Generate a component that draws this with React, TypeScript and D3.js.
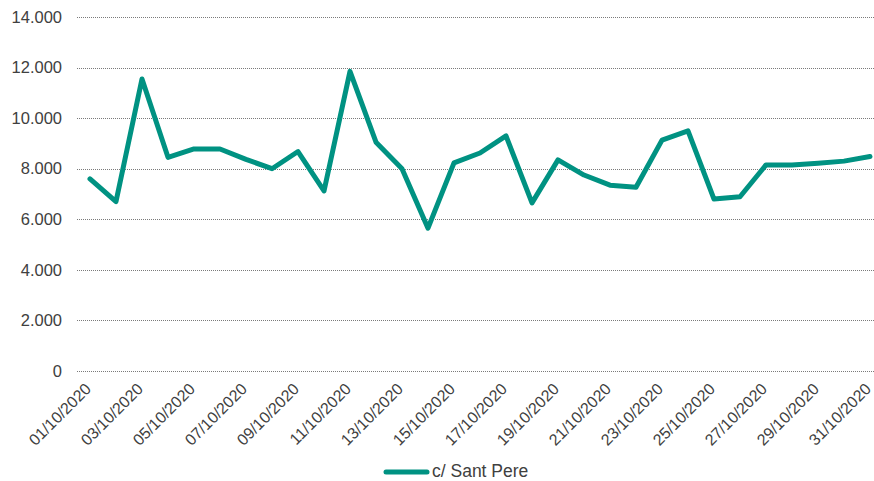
import React from "react";
import * as d3 from "d3";

const dates: string[] = Array.from({ length: 31 }, (_, i) =>
  `${String(i + 1).padStart(2, "0")}/10/2020`
);
const values: number[] = [
  7600, 6700, 11550, 8450, 8780, 8780, 8370, 8000, 8680, 7120,
  11850, 9050, 8000, 5650, 8230, 8620, 9300, 6650, 8350, 7750,
  7350, 7270, 9130, 9500, 6800, 6890, 8150, 8150, 8220, 8300, 8480,
];
const yTicks: number[] = [0, 2000, 4000, 6000, 8000, 10000, 12000, 14000];
const seriesName = "c/ Sant Pere";

const W = 874;
const H = 481;
const LINE_COLOR = "#009282";
const TEXT_COLOR = "#404040";

const locale = d3.formatLocale({
  decimal: ",",
  thousands: ".",
  grouping: [3],
  currency: ["", "€"],
});
const fmt = locale.format(",d");

export default function App() {
  const x = d3
    .scaleBand<string>()
    .domain(dates)
    .range([77, 77 + 26 * dates.length])
    .paddingInner(0)
    .paddingOuter(0);
  const y = d3.scaleLinear().domain([0, 14000]).range([371, 17]);
  const cx = (d: string) => (x(d) as number) + x.bandwidth() / 2;

  const line = d3
    .line<number>()
    .x((_, i) => cx(dates[i]))
    .y((v) => y(v));

  const labelDates = dates.filter((_, i) => i % 2 === 0);

  return (
    <svg
      width={W}
      height={H}
      style={{ position: "absolute", left: 0, top: 0, background: "#fff" }}
      fontFamily="'Liberation Sans', Arial, sans-serif"
    >
      {yTicks.map((t) => (
        <g key={t}>
          <line
            x1={77}
            x2={W}
            y1={Math.round(y(t)) + 0.5}
            y2={Math.round(y(t)) + 0.5}
            stroke="#7a7a7a"
            strokeWidth={1}
            strokeDasharray="1,1"
          />
          <text
            x={62}
            y={y(t)}
            dy="0.35em"
            textAnchor="end"
            fontSize={16.5}
            fill={TEXT_COLOR}
          >
            {fmt(t)}
          </text>
        </g>
      ))}
      <path
        d={line(values) || ""}
        fill="none"
        stroke={LINE_COLOR}
        strokeWidth={5}
        strokeLinejoin="round"
        strokeLinecap="round"
      />
      {labelDates.map((d) => (
        <text
          key={d}
          transform={`translate(${cx(d) + 2},${390}) rotate(-45)`}
          textAnchor="end"
          fontSize={16}
          fill={TEXT_COLOR}
        >
          {d}
        </text>
      ))}
      <g>
        <line
          x1={386}
          x2={427}
          y1={472}
          y2={472}
          stroke={LINE_COLOR}
          strokeWidth={5}
          strokeLinecap="round"
        />
        <text x={432} y={477} fontSize={17.5} fill={TEXT_COLOR}>
          {seriesName}
        </text>
      </g>
    </svg>
  );
}
